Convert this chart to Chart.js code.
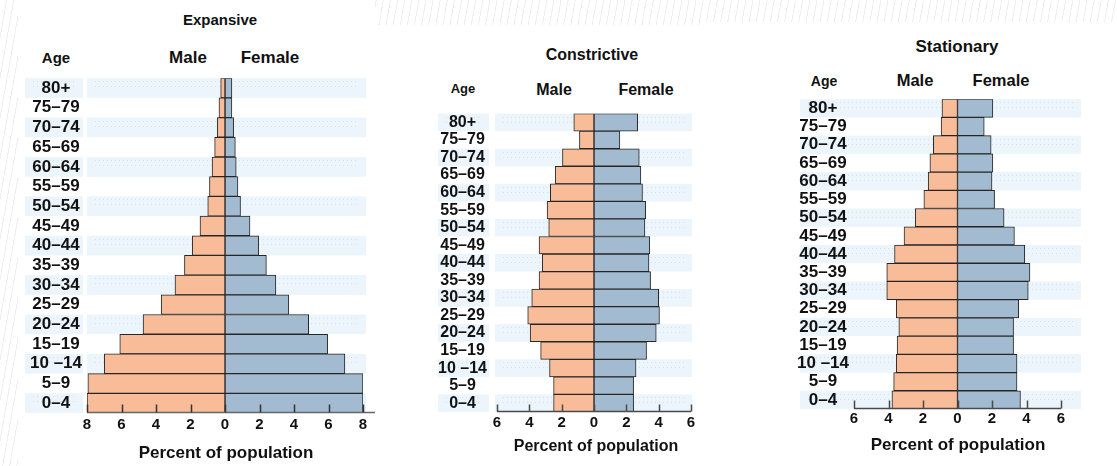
<!DOCTYPE html>
<html>
<head>
<meta charset="utf-8">
<title>Population pyramids</title>
<script src="https://cdn.jsdelivr.net/npm/chart.js@4.4.1/dist/chart.umd.min.js"></script>
<style>
  html, body { margin: 0; padding: 0; }
  body {
    width: 1117px; height: 466px; position: relative; overflow: hidden;
    background: repeating-linear-gradient(100deg, #fff 0 6px, #efefef 6px 7px);
    font-family: "Liberation Sans", Arial, sans-serif; color: #111;
  }
  .sheet { position: absolute; background: #fff; }
  .txt {
    position: absolute; font-weight: bold; white-space: nowrap; line-height: 1;
    transform: translate(-50%, -50%);
  }
  canvas { position: absolute; }
</style>
</head>
<body>
<div class="sheet" style="left:18px;top:0;width:357px;height:466px"></div>
<div class="sheet" style="left:375px;top:25px;width:330px;height:441px"></div>
<div class="sheet" style="left:705px;top:22px;width:412px;height:444px"></div>

<!-- Expansive -->
<div class="txt" style="left:220px;top:19px;font-size:15px">Expansive</div>
<div class="txt" style="left:56px;top:57px;font-size:15px">Age</div>
<div class="txt" style="left:188px;top:57px;font-size:17px">Male</div>
<div class="txt" style="left:270px;top:57px;font-size:17px">Female</div>
<canvas id="expansive" width="350" height="380" style="left:25px;top:63px"></canvas>
<div class="txt" style="left:226px;top:452px;font-size:17px">Percent of population</div>

<!-- Constrictive -->
<div class="txt" style="left:592px;top:55px;font-size:16px">Constrictive</div>
<div class="txt" style="left:463px;top:88px;font-size:13px">Age</div>
<div class="txt" style="left:554px;top:90px;font-size:16px">Male</div>
<div class="txt" style="left:646px;top:90px;font-size:16px">Female</div>
<canvas id="constrictive" width="267" height="348" style="left:436px;top:94px"></canvas>
<div class="txt" style="left:596px;top:446px;font-size:16px">Percent of population</div>

<!-- Stationary -->
<div class="txt" style="left:957px;top:46px;font-size:17px">Stationary</div>
<div class="txt" style="left:824px;top:81px;font-size:14px">Age</div>
<div class="txt" style="left:915px;top:80px;font-size:16.5px">Male</div>
<div class="txt" style="left:1001px;top:80px;font-size:16.5px">Female</div>
<canvas id="stationary" width="288" height="355" style="left:798px;top:84px"></canvas>
<div class="txt" style="left:958px;top:444px;font-size:17px">Percent of population</div>

<script>
// Age groups, oldest at the top
const ageGroups = ['80+', '75–79', '70–74', '65–69', '60–64', '55–59', '50–54', '45–49',
  '40–44', '35–39', '30–34', '25–29', '20–24', '15–19', '10 –14', '5–9', '0–4'];

// Percent of population per age group
const expansiveMale     = [0.25, 0.35, 0.45, 0.6, 0.75, 0.9, 1.0, 1.45, 1.9, 2.35, 2.9, 3.7, 4.75, 6.1, 7.0, 7.95, 8.0];
const expansiveFemale   = [0.4, 0.4, 0.5, 0.6, 0.65, 0.75, 0.9, 1.45, 1.95, 2.4, 2.95, 3.7, 4.85, 5.95, 6.95, 8.0, 8.0];
const constrictiveMale   = [1.25, 0.9, 1.95, 2.4, 2.7, 2.9, 2.8, 3.4, 3.2, 3.4, 3.85, 4.1, 3.95, 3.3, 2.75, 2.5, 2.5];
const constrictiveFemale = [2.7, 1.6, 2.8, 2.9, 3.0, 3.2, 3.15, 3.45, 3.4, 3.5, 4.0, 4.05, 3.85, 3.25, 2.6, 2.45, 2.45];
const stationaryMale   = [0.9, 0.95, 1.4, 1.6, 1.7, 1.95, 2.45, 3.1, 3.65, 4.1, 4.1, 3.55, 3.4, 3.5, 3.55, 3.7, 3.8];
const stationaryFemale = [2.05, 1.55, 1.95, 2.05, 2.0, 2.15, 2.7, 3.3, 3.9, 4.2, 4.1, 3.55, 3.25, 3.25, 3.45, 3.45, 3.65];

// Axis ticks (male side is negative, shown as absolute values)
const expansiveTicks = [-8, -6, -4, -2, 0, 2, 4, 6, 8];
const narrowTicks    = [-6, -4, -2, 0, 2, 4, 6];

const MALE = '#f8bd98';
const FEMALE = '#a2bbd0';
const EDGE = '#262626';
const BAND = '#ebf5fb';

/* ── Plugins ─────────────────────────────────────────────── */
// alternate light-blue row bands behind labels and bars
const rowBands = {
  id: 'rowBands',
  beforeDraw(chart, args, opts) {
    const { ctx, chartArea } = chart;
    const y = chart.scales.y;
    const h = (y.bottom - y.top) / y.ticks.length;
    const spans = opts.continuous
      ? [[opts.labelLeft, chartArea.right + opts.extRight]]
      : [[opts.labelLeft, y.right - opts.gap], [chartArea.left - opts.extLeft, chartArea.right + opts.extRight]];
    ctx.save();
    y.ticks.forEach((t, i) => {
      if (i % 2) return;
      const top = y.top + i * h;
      ctx.fillStyle = BAND;
      spans.forEach(([x0, x1]) => ctx.fillRect(x0, top, x1 - x0, h));
      // faint dotted rules inside each band
      ctx.strokeStyle = 'rgba(190,205,215,0.5)';
      ctx.lineWidth = 1;
      ctx.setLineDash([1, 3]);
      ctx.beginPath();
      spans.forEach(([x0, x1]) => {
        ctx.moveTo(x0 + 8, Math.round(top + 3) + 0.5); ctx.lineTo(x1 - 8, Math.round(top + 3) + 0.5);
        ctx.moveTo(x0 + 8, Math.round(top + 8) + 0.5); ctx.lineTo(x1 - 8, Math.round(top + 8) + 0.5);
      });
      ctx.stroke();
    });
    ctx.restore();
  }
};

// bottom axis line with tick marks pointing up into the plot
const innerTicks = {
  id: 'innerTicks',
  afterDatasetsDraw(chart, args, opts) {
    const { ctx, chartArea } = chart;
    const x = chart.scales.x;
    const base = Math.round(chartArea.bottom) - 0.5;
    ctx.save();
    ctx.strokeStyle = opts.lineColor;
    ctx.lineWidth = 1.5;
    ctx.beginPath();
    ctx.moveTo(x.left, base);
    ctx.lineTo(x.right + opts.lineExt, base);
    ctx.stroke();
    ctx.strokeStyle = opts.color;
    ctx.beginPath();
    x.ticks.forEach(t => {
      const px = Math.round(x.getPixelForValue(t.value)) + 0.5;
      ctx.moveTo(px, base);
      ctx.lineTo(px, base - opts.length);
    });
    ctx.stroke();
    ctx.restore();
  }
};

/* ── Pyramid builder ─────────────────────────────────────── */
function buildPyramid(id, male, female, ticks, geo) {
  const tickFont = { family: '"Liberation Sans", Arial, sans-serif', weight: 'bold', size: geo.xFont };
  const ageFont = { family: '"Liberation Sans", Arial, sans-serif', weight: 'bold', size: geo.yFont };
  return new Chart(document.getElementById(id), {
    type: 'bar',
    data: {
      labels: ageGroups,
      datasets: [
        {
          label: 'Male', data: male.map(v => -v),
          backgroundColor: MALE, borderColor: EDGE, borderWidth: 1, borderSkipped: false,
          barPercentage: 1, categoryPercentage: 1
        },
        {
          label: 'Female', data: female,
          backgroundColor: FEMALE, borderColor: EDGE, borderWidth: 1, borderSkipped: false,
          barPercentage: 1, categoryPercentage: 1
        }
      ]
    },
    options: {
      indexAxis: 'y',
      responsive: false,
      animation: false,
      layout: { padding: { top: 10, right: geo.padRight, bottom: 0, left: 0 } },
      plugins: {
        legend: { display: false },
        tooltip: { enabled: false },
        rowBands: geo.bands,
        innerTicks: geo.axis
      },
      scales: {
        x: {
          stacked: true,
          min: ticks[0], max: ticks[ticks.length - 1],
          afterBuildTicks: s => { s.ticks = ticks.map(v => ({ value: v })); },
          afterFit: s => { s.height = 30; },
          grid: { display: false, drawTicks: false },
          border: { display: false },
          ticks: { callback: v => Math.abs(v), font: tickFont, color: '#111', padding: geo.xPad, maxRotation: 0, autoSkip: false }
        },
        y: {
          stacked: true,
          afterFit: s => { s.width = geo.yWidth; },
          grid: { display: false, drawTicks: false },
          border: { display: false },
          ticks: { crossAlign: 'center', padding: geo.yPad, font: ageFont, color: '#111', autoSkip: false }
        }
      }
    },
    plugins: [rowBands, innerTicks]
  });
}

buildPyramid('expansive', expansiveMale, expansiveFemale, expansiveTicks, {
  yWidth: 62, padRight: 12, yPad: 5, xPad: 3, xFont: 15, yFont: 17,
  bands: { labelLeft: 0, gap: 4, extLeft: 0, extRight: 3, continuous: false },
  axis: { lineColor: '#666', color: '#333', length: 8, lineExt: 17 }
});

buildPyramid('constrictive', constrictiveMale, constrictiveFemale, narrowTicks, {
  yWidth: 61, padRight: 12, yPad: 10, xPad: 2, xFont: 15, yFont: 16,
  bands: { labelLeft: 2, gap: 8, extLeft: 2, extRight: 1, continuous: false },
  axis: { lineColor: '#4a4a4a', color: '#4a4a4a', length: 7, lineExt: 0 }
});

buildPyramid('stationary', stationaryMale, stationaryFemale, narrowTicks, {
  yWidth: 56, padRight: 25, yPad: 5, xPad: 1, xFont: 15, yFont: 17,
  bands: { labelLeft: 2, gap: 0, extLeft: 0, extRight: 20, continuous: true },
  axis: { lineColor: '#4a4a4a', color: '#4a4a4a', length: 8, lineExt: 0 }
});
</script>
</body>
</html>
